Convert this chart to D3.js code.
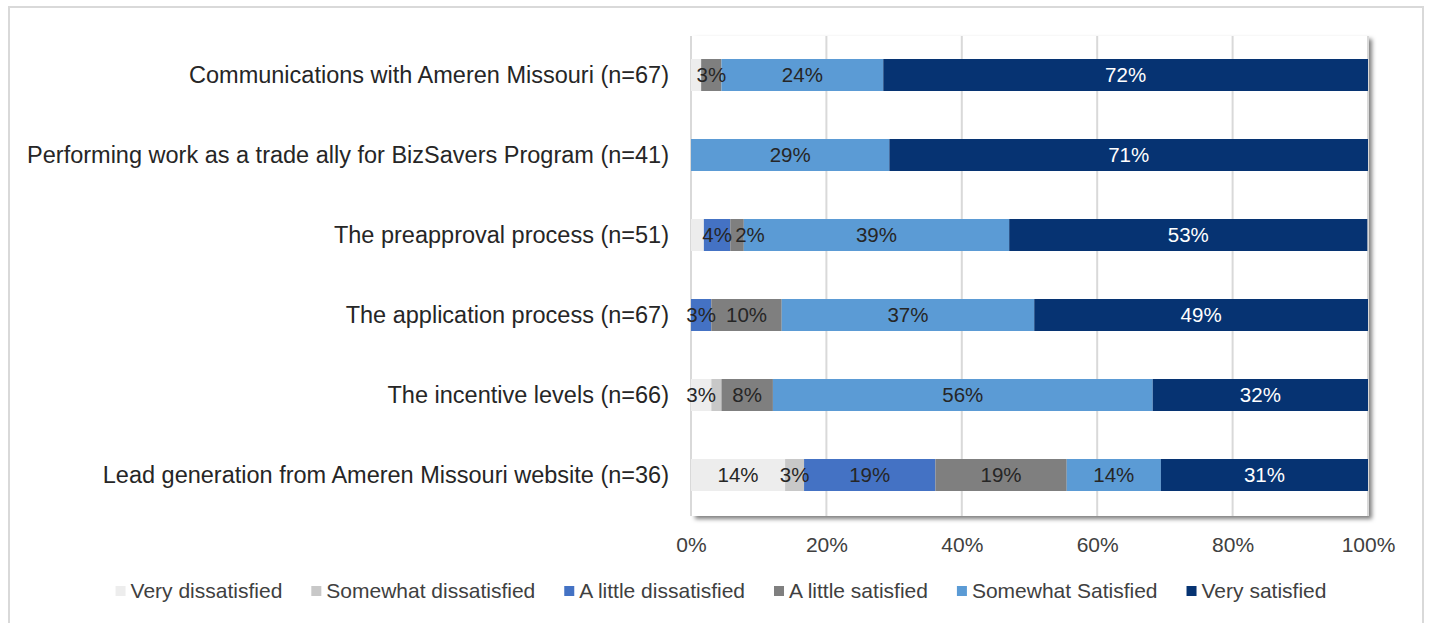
<!DOCTYPE html>
<html>
<head>
<meta charset="utf-8">
<script src="https://cdn.jsdelivr.net/npm/d3@7"></script>
<style>
  body { margin: 0; background: #fff; }
  svg { display: block; font-family: "Liberation Sans", Arial, sans-serif; }
</style>
</head>
<body>
<script>
// categories, top to bottom
var categories = [
  "Communications with Ameren Missouri (n=67)",
  "Performing work as a trade ally for BizSavers Program (n=41)",
  "The preapproval process (n=51)",
  "The application process (n=67)",
  "The incentive levels (n=66)",
  "Lead generation from Ameren Missouri website (n=36)"
];

var seriesNames = ["Very dissatisfied", "Somewhat dissatisfied", "A little dissatisfied",
  "A little satisfied", "Somewhat Satisfied", "Very satisfied"];

var seriesColors = ["#ededed", "#c8c8c8", "#4472c4", "#7f7f7f", "#5b9bd5", "#063372"];

// percent values per series, same order as categories
var veryDissatisfied     = [1.5, 0,    1.9,  0,    3.0,  13.9];
var somewhatDissatisfied = [0,   0,    0,    0,    1.5,  2.8];
var littleDissatisfied   = [0,   0,    3.9,  3.0,  0,    19.4];
var littleSatisfied      = [3.0, 0,    2.0,  10.4, 7.6,  19.4];
var somewhatSatisfied    = [23.9, 29.3, 39.2, 37.3, 56.1, 13.9];
var verySatisfied        = [71.6, 70.7, 52.9, 49.3, 31.8, 30.6];

var tickValues = [0, 20, 40, 60, 80, 100];

var width = 1429, height = 623;

var svg = d3.select("body").append("svg")
  .attr("width", width)
  .attr("height", height);

//chart frame
svg.append("rect")
  .attr("x", 9).attr("y", 7)
  .attr("width", 1414).attr("height", 620)
  .attr("fill", "#fff")
  .attr("stroke", "#d9d9d9")
  .attr("stroke-width", 2);

var plot = {left: 691, right: 1368, top: 36, bottom: 516};

var x = d3.scaleLinear().domain([0, 100]).range([plot.left, plot.right]);
var y = d3.scaleBand().domain(categories)
  .range([plot.top - 1, plot.bottom - 1])
  .paddingInner(0.6).paddingOuter(0.3);

//shadowed plot area
var defs = svg.append("defs");
var f = defs.append("filter").attr("id", "shadow")
  .attr("x", "-5%").attr("y", "-5%").attr("width", "110%").attr("height", "110%");
f.append("feDropShadow")
  .attr("dx", 4).attr("dy", 3)
  .attr("stdDeviation", 2.2)
  .attr("flood-color", "#000")
  .attr("flood-opacity", 0.5);

svg.append("rect")
  .attr("x", plot.left).attr("y", plot.top)
  .attr("width", plot.right - plot.left)
  .attr("height", plot.bottom - plot.top)
  .attr("fill", "#fff")
  .attr("filter", "url(#shadow)");

//gridlines
svg.selectAll(".grid")
  .data(tickValues)
  .enter().append("line")
  .attr("class", "grid")
  .attr("x1", function(d){ return x(d); })
  .attr("x2", function(d){ return x(d); })
  .attr("y1", plot.top)
  .attr("y2", plot.bottom)
  .attr("stroke", "#d9d9d9")
  .attr("stroke-width", 2);

//x axis labels
var xAxis = d3.axisBottom(x)
  .tickValues(tickValues)
  .tickFormat(function(d){ return d + "%"; })
  .tickSize(0)
  .tickPadding(0);

var gx = svg.append("g")
  .attr("transform", "translate(0," + 537 + ")")
  .call(xAxis);
gx.select(".domain").remove();
gx.selectAll("text")
  .attr("font-size", 21)
  .attr("font-family", "Liberation Sans, Arial, sans-serif")
  .attr("fill", "#404040");

//category labels
svg.selectAll(".cat")
  .data(categories)
  .enter().append("text")
  .attr("class", "cat")
  .attr("x", 669)
  .attr("y", function(d){ return y(d) + y.bandwidth() / 2; })
  .attr("dy", "0.35em")
  .attr("text-anchor", "end")
  .attr("font-size", 23.5)
  .attr("fill", "#262626")
  .text(function(d){ return d; });

//stack the series
var seriesValues = [veryDissatisfied, somewhatDissatisfied, littleDissatisfied,
  littleSatisfied, somewhatSatisfied, verySatisfied];

var rows = categories.map(function(c, i){
  var r = {category: c};
  seriesNames.forEach(function(s, j){ r[s] = seriesValues[j][i]; });
  return r;
});

var stack = d3.stack().keys(seriesNames);
var layers = stack(rows);

var layer = svg.selectAll(".layer")
  .data(layers)
  .enter().append("g")
  .attr("class", "layer")
  .attr("fill", function(d, i){ return seriesColors[i]; });

layer.selectAll("rect")
  .data(function(d){ return d; })
  .enter().append("rect")
  .attr("x", function(d){ return x(d[0]); })
  .attr("width", function(d){ return x(d[1]) - x(d[0]); })
  .attr("y", function(d){ return y(d.data.category); })
  .attr("height", y.bandwidth());

//data labels, drawn above every bar (the small 2% on the preapproval row sits right of its segment)
function nudge(d){
  return (d.idx === 3 && d.p.data.category === categories[2]) ? 13 : 0;
}

var labelData = [];
layers.forEach(function(l, i){
  l.forEach(function(p){
    if (p[1] - p[0] >= 1.95) labelData.push({p: p, idx: i});
  });
});

svg.append("g").attr("class", "labels")
  .selectAll("text")
  .data(labelData)
  .enter().append("text")
  .attr("x", function(d){ return (x(d.p[0]) + x(d.p[1])) / 2 + nudge(d); })
  .attr("y", function(d){ return y(d.p.data.category) + y.bandwidth() / 2; })
  .attr("dy", "0.35em")
  .attr("text-anchor", "middle")
  .attr("font-size", 20.5)
  .attr("fill", function(d){ return d.idx === 5 ? "#ffffff" : "#262626"; })
  .text(function(d){ return Math.round(d.p[1] - d.p[0]) + "%"; });

//legend
var legend = svg.append("g").attr("class", "legend");
var items = legend.selectAll("g")
  .data(seriesNames)
  .enter().append("g");

items.append("rect")
  .attr("width", 10).attr("height", 10)
  .attr("y", -5)
  .attr("fill", function(d, i){ return seriesColors[i]; });

items.append("text")
  .attr("x", 15)
  .attr("dy", "0.35em")
  .attr("font-size", 21)
  .attr("fill", "#404040")
  .text(function(d){ return d; });

var pos = 0, offsets = [];
items.each(function(){
  offsets.push(pos);
  pos += 15 + d3.select(this).select("text").node().getComputedTextLength() + 29;
});
var total = pos - 29;
var start = 721 - total / 2;
items.attr("transform", function(d, i){ return "translate(" + (start + offsets[i]) + ",591)"; });
</script>
</body>
</html>
